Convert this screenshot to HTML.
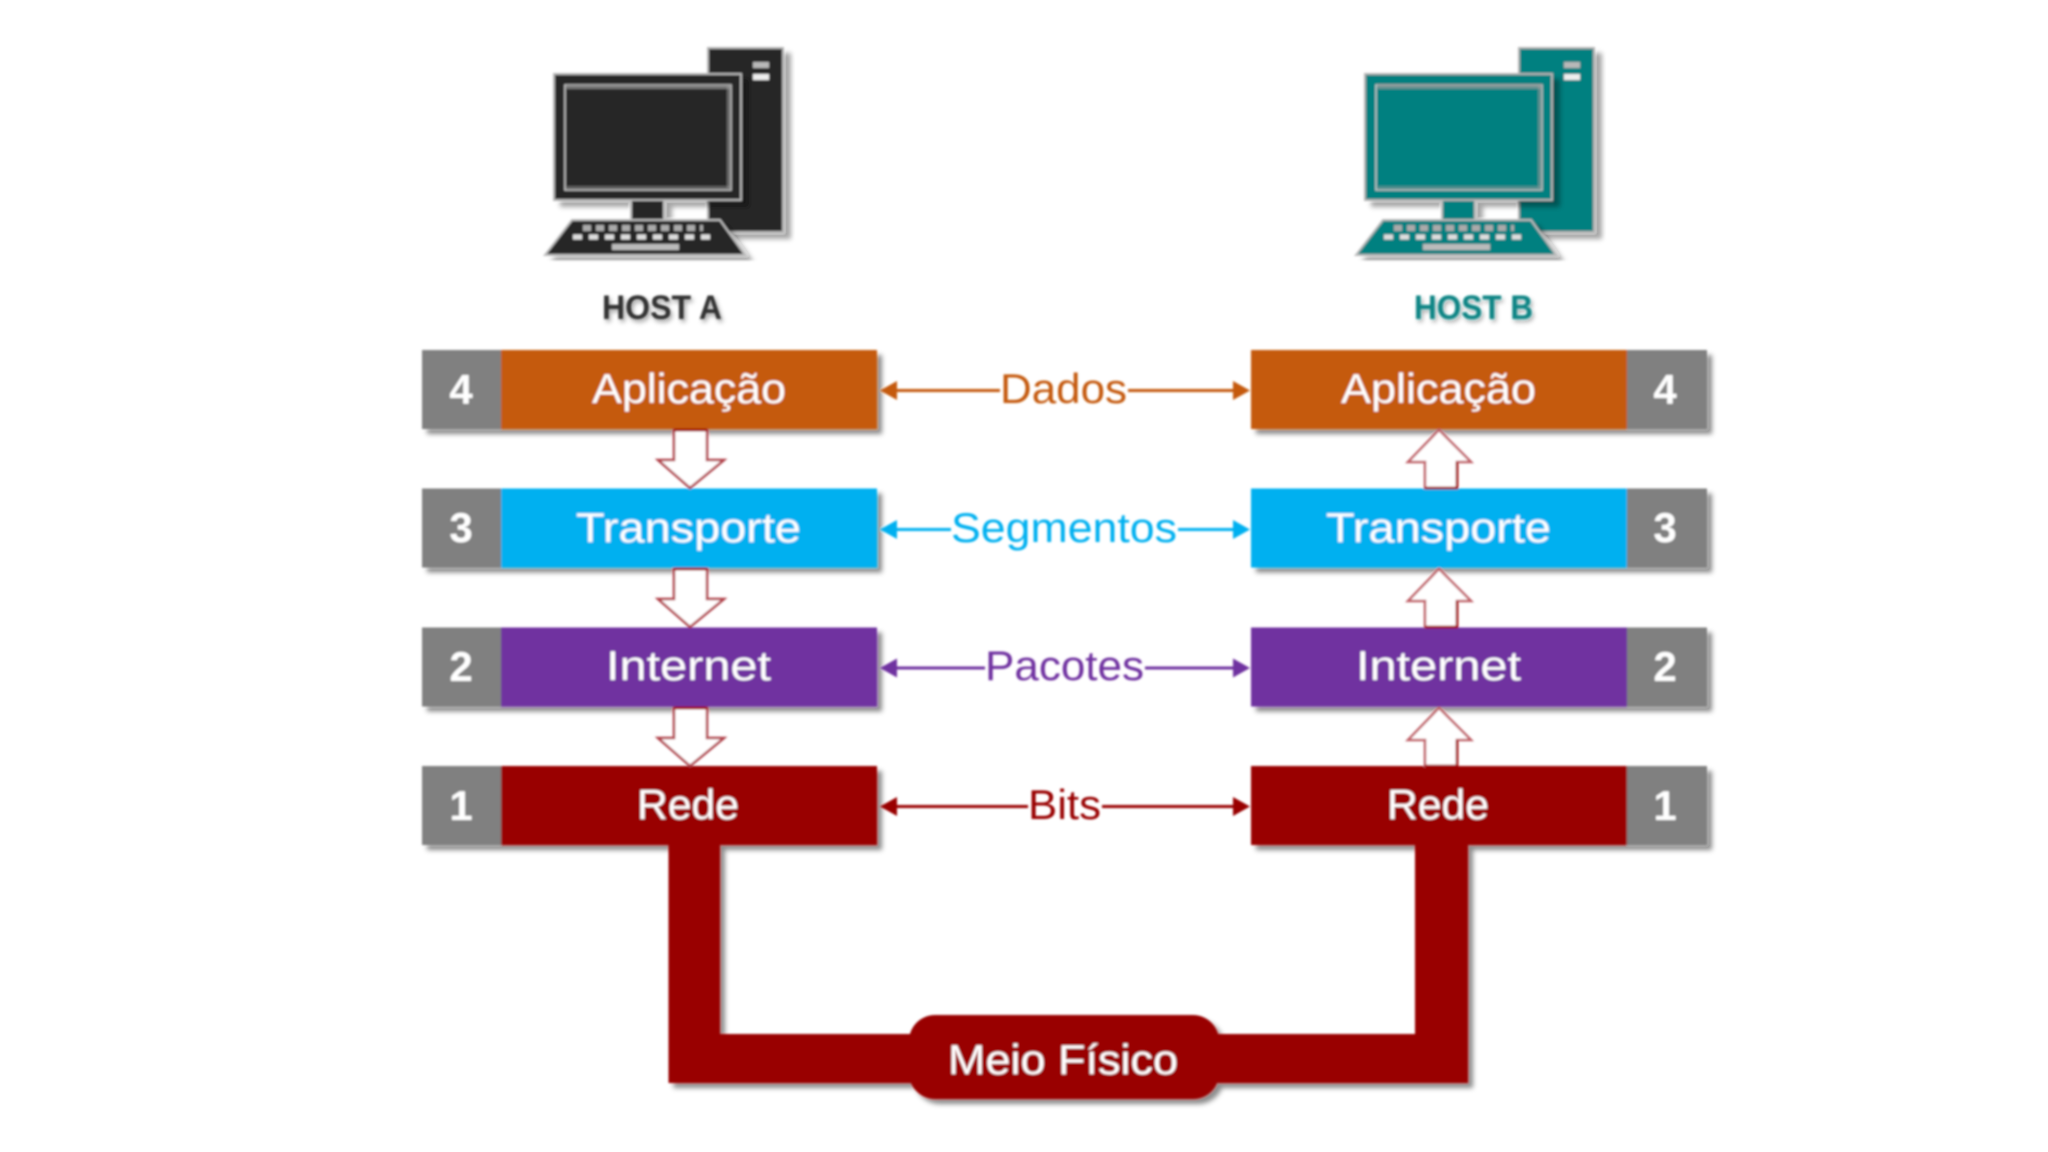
<!DOCTYPE html>
<html><head><meta charset="utf-8"><style>html,body{margin:0;padding:0;background:#fff}svg{display:block}text{font-family:"Liberation Sans",sans-serif}</style></head><body>
<svg xmlns="http://www.w3.org/2000/svg" width="2048" height="1152" viewBox="0 0 2048 1152">
<defs>
<filter id="b" x="-2%" y="-2%" width="104%" height="104%"><feGaussianBlur stdDeviation="1"/></filter>
<filter id="s" x="-10%" y="-20%" width="120%" height="140%"><feDropShadow dx="5" dy="5" stdDeviation="2.5" flood-color="#000" flood-opacity=".45"/></filter>
<filter id="t" x="-10%" y="-10%" width="125%" height="125%"><feDropShadow dx="7" dy="6" stdDeviation="2.5" flood-color="#000" flood-opacity=".35"/></filter>
<filter id="ts" x="-10%" y="-20%" width="120%" height="150%"><feDropShadow dx="2" dy="3" stdDeviation="2" flood-color="#000" flood-opacity=".35"/></filter>
<g id="pc">
<g filter="url(#t)">
<rect x="708" y="48" width="75" height="184" fill="currentColor" stroke="#b5b5b5" stroke-width="2"/>
</g>
<rect x="753" y="62" width="16" height="6" fill="#b8b8b8"/>
<rect x="753" y="74" width="16" height="6" fill="#eeeeee"/>
<g filter="url(#t)">
<rect x="631" y="198" width="33" height="24" fill="currentColor" stroke="#c0c0c0" stroke-width="2"/>
<rect x="554" y="74" width="187" height="126" fill="currentColor" stroke="#b5b5b5" stroke-width="2"/>
</g>
<rect x="565" y="85" width="166" height="105" fill="currentColor" stroke="#ccc" stroke-width="1.5"/>
<rect x="566" y="84" width="165" height="5" fill="#999" opacity=".7"/>
<rect x="566" y="186" width="165" height="4" fill="#999" opacity=".5"/>
<rect x="727" y="86" width="4" height="102" fill="#999" opacity=".6"/>
<g filter="url(#t)"><polygon points="572,220 720,220 745,255 545,255" fill="currentColor" stroke="#bbb" stroke-width="2"/></g>
<line x1="583" y1="228" x2="703" y2="228" stroke="#aaa" stroke-width="6" stroke-dasharray="8 5"/>
<line x1="573" y1="237" x2="716" y2="237" stroke="#ddd" stroke-width="5" stroke-dasharray="9 7"/>
<rect x="612" y="244" width="67" height="6" fill="#bbb"/>
</g>
<g id="dn"><path d="M674 430V460H658L690 488L724 460H707V430Z" fill="#fff" stroke="#b04048" stroke-width="2.5"/><line x1="674" y1="430" x2="707" y2="430" stroke="#a00000" stroke-width="3"/></g>
<g id="up"><path d="M1425 488V462H1408L1439 430L1471 462H1457V488Z" fill="#fff" stroke="#c06068" stroke-width="2.5"/><path d="M1425 488H1457V462" fill="none" stroke="#a00000" stroke-width="2.5"/></g>
</defs>
<rect width="2048" height="1152" fill="#fff"/>
<g filter="url(#b)">
<use href="#pc" style="color:#252525"/>
<use href="#pc" x="811" style="color:#008080"/>
<text x="602" y="319" font-size="34" font-weight="700" fill="#333" filter="url(#ts)" textLength="120" lengthAdjust="spacingAndGlyphs">HOST A</text>
<text x="1414" y="319" font-size="34" font-weight="700" fill="#0a8585" filter="url(#ts)" textLength="119" lengthAdjust="spacingAndGlyphs">HOST B</text>

<g filter="url(#s)">
<path d="M668.5 840H720V1034H1415V840H1468V1083H668.5Z" fill="#990000"/>
<rect x="909" y="1015" width="310" height="84" rx="26" fill="#990000"/>
<rect x="422" y="350" width="79" height="79" fill="#808080"/><rect x="501" y="350" width="376" height="79" fill="#c55a11"/>
<rect x="422" y="488.5" width="79" height="79" fill="#808080"/><rect x="501" y="488.5" width="376" height="79" fill="#00b0f0"/>
<rect x="422" y="627.5" width="79" height="79" fill="#808080"/><rect x="501" y="627.5" width="376" height="79" fill="#7030a0"/>
<rect x="422" y="766" width="79" height="79" fill="#808080"/><rect x="501" y="766" width="376" height="79" fill="#990000"/>
<rect x="1627" y="350" width="80" height="79" fill="#808080"/><rect x="1251" y="350" width="376" height="79" fill="#c55a11"/>
<rect x="1627" y="488.5" width="80" height="79" fill="#808080"/><rect x="1251" y="488.5" width="376" height="79" fill="#00b0f0"/>
<rect x="1627" y="627.5" width="80" height="79" fill="#808080"/><rect x="1251" y="627.5" width="376" height="79" fill="#7030a0"/>
<rect x="1627" y="766" width="80" height="79" fill="#808080"/><rect x="1251" y="766" width="376" height="79" fill="#990000"/>
</g>

<use href="#dn"/><use href="#dn" y="139"/><use href="#dn" y="278"/>
<use href="#up"/><use href="#up" y="139"/><use href="#up" y="278"/>

<g font-size="42" fill="#fff">
<text x="592" y="403" textLength="194" lengthAdjust="spacingAndGlyphs">Aplicação</text>
<text x="576" y="542" textLength="225" lengthAdjust="spacingAndGlyphs">Transporte</text>
<text x="606" y="680" textLength="165" lengthAdjust="spacingAndGlyphs">Internet</text>
<text x="637" y="819" textLength="102" lengthAdjust="spacingAndGlyphs">Rede</text>
<text x="1341" y="403" textLength="195" lengthAdjust="spacingAndGlyphs">Aplicação</text>
<text x="1326" y="542" textLength="225" lengthAdjust="spacingAndGlyphs">Transporte</text>
<text x="1356" y="680" textLength="165" lengthAdjust="spacingAndGlyphs">Internet</text>
<text x="1387" y="819" textLength="102" lengthAdjust="spacingAndGlyphs">Rede</text>
<text x="948" y="1074" textLength="230" lengthAdjust="spacingAndGlyphs">Meio Físico</text>
</g>
<g font-size="42" font-weight="700" fill="#fff" text-anchor="middle">
<text x="461" y="404">4</text><text x="461" y="542">3</text><text x="461" y="681">2</text><text x="461" y="820">1</text>
<text x="1665" y="404">4</text><text x="1665" y="542">3</text><text x="1665" y="681">2</text><text x="1665" y="820">1</text>
</g>

<g stroke-width="3">
<g stroke="#c55a11" fill="#c55a11"><path d="M892 390.5H1000M1128 390.5H1238" fill="none"/><polygon points="880,390.5 897,381 897,400" stroke="none"/><polygon points="1250,390.5 1233,381 1233,400" stroke="none"/></g>
<g stroke="#00b0f0" fill="#00b0f0"><path d="M892 529.5H951M1178 529.5H1238" fill="none"/><polygon points="880,529.5 897,520 897,539" stroke="none"/><polygon points="1250,529.5 1233,520 1233,539" stroke="none"/></g>
<g stroke="#7030a0" fill="#7030a0"><path d="M892 668H985M1145 668H1238" fill="none"/><polygon points="880,668 897,658.5 897,677.5" stroke="none"/><polygon points="1250,668 1233,658.5 1233,677.5" stroke="none"/></g>
<g stroke="#990000" fill="#990000"><path d="M892 806.5H1028M1102 806.5H1238" fill="none"/><polygon points="880,806.5 897,797 897,816" stroke="none"/><polygon points="1250,806.5 1233,797 1233,816" stroke="none"/></g>
</g>
<g font-size="42">
<text x="1000" y="403" fill="#c55a11" textLength="127" lengthAdjust="spacingAndGlyphs">Dados</text>
<text x="951" y="542" fill="#00b0f0" textLength="226" lengthAdjust="spacingAndGlyphs">Segmentos</text>
<text x="985" y="680" fill="#7030a0" textLength="159" lengthAdjust="spacingAndGlyphs">Pacotes</text>
<text x="1028" y="819" fill="#990000" textLength="73" lengthAdjust="spacingAndGlyphs">Bits</text>
</g>
</g>
</svg>
</body></html>
